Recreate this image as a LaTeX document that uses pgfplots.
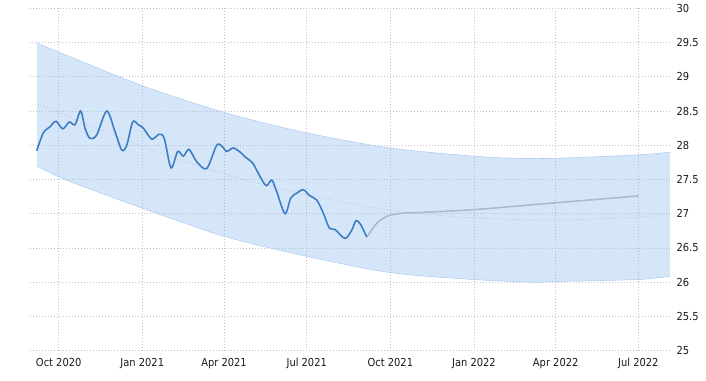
\documentclass[border=0pt]{standalone}
\usepackage{fontspec}
\setmainfont{DejaVu Sans}[FakeStretch=0.9]
\usepackage{pgfplots}
\pgfplotsset{compat=1.18}
\usepgfplotslibrary{fillbetween}
\definecolor{bandfill}{RGB}{138,184,238}
\definecolor{bandedge}{RGB}{180,206,242}
\definecolor{mainblue}{RGB}{60,125,195}
\definecolor{fcgray}{RGB}{176,186,200}
\definecolor{midgray}{RGB}{185,195,210}
\definecolor{gridgray}{RGB}{195,195,195}
\begin{document}
\begin{tikzpicture}
\begin{axis}[
  scale only axis, width=642pt, height=342.4pt,
  xmin=-31.6, xmax=675, ymin=25, ymax=30,
  ytick={25,25.5,26,26.5,27,27.5,28,28.5,29,29.5,30},
  yticklabels={25,25.5,26,26.5,27,27.5,28,28.5,29,29.5,30},
  yticklabel pos=right,
  xtick={0,92,182,273,365,457,547,638},
  xticklabels={Oct 2020,Jan 2021,Apr 2021,Jul 2021,Oct 2021,Jan 2022,Apr 2022,Jul 2022},
  grid=major,
  grid style={gridgray, line width=0.75pt, dash pattern=on 1pt off 2pt},
  axis line style={draw=none},
  major tick length=0pt,
  tick label style={font=\fontsize{11}{13}\selectfont, text=black!90},
  xticklabel style={yshift=-4pt},
  yticklabel style={xshift=1pt},
]
\addplot[name path=upper, smooth, bandedge, line width=0.6pt] coordinates {
(-24,29.49) (0,29.36) (92,28.87) (182,28.48) (273,28.18) (365,27.96) (457,27.84) (504,27.81) (547,27.81) (638,27.86) (673,27.90)};
\addplot[name path=lower, smooth, bandedge, line width=0.6pt] coordinates {
(-24,27.70) (8.8,27.49) (92.5,27.08) (182.3,26.67) (272.5,26.38) (365.4,26.14) (456.8,26.04) (523.5,26.00) (546.6,26.01) (638,26.04) (673,26.09)};
\addplot[bandfill, fill opacity=0.35, draw=none] fill between[of=upper and lower];
\addplot[smooth, midgray, line width=0.6pt, densely dotted] coordinates {
(-24,28.60) (0,28.48) (92,27.98) (182,27.58) (273,27.28) (365,27.05) (457,26.94) (547,26.91) (638,26.95) (673,27.00)};
\addplot[smooth, fcgray, line width=1.6pt] coordinates {
(339,26.66) (350,26.86) (358,26.94) (365,26.98) (380,27.01) (400,27.02) (457,27.06) (547,27.16) (638,27.26)};
\addplot[smooth, mainblue, line width=1.6pt] coordinates {
(-24.2,27.92) (-16.95,28.18) (-9.58,28.27) (-2.97,28.35) (4.40,28.24) (11.67,28.34) (17.94,28.30) (24.22,28.50) (28.95,28.25) (34.45,28.10) (41.83,28.15) (52.83,28.50) (61.97,28.20) (69.34,27.93) (74.85,28.00) (81.45,28.34) (87.62,28.30) (93.12,28.25) (102.37,28.09) (110.4,28.16) (116.2,28.10) (123.6,27.67) (131.0,27.91) (137.1,27.84) (143.4,27.94) (151.9,27.76) (162.9,27.66) (173.9,28.00) (180.1,27.98) (184.9,27.91) (192.2,27.96) (200.7,27.89) (205.1,27.83) (213.5,27.74) (219.7,27.59) (228.2,27.41) (234.5,27.49) (240.0,27.32) (249.1,27.00) (255.4,27.23) (262.0,27.30) (269.2,27.35) (276.6,27.26) (284.0,27.20) (291.2,27.01) (297.9,26.79) (304.1,26.77) (315.1,26.64) (322.5,26.76) (327.2,26.90) (332.4,26.84) (339.0,26.66)};
\end{axis}
\path ([xshift=-30pt,yshift=-29.3pt]current axis.south west) rectangle ([xshift=34pt,yshift=8.3pt]current axis.north east);
\end{tikzpicture}
\end{document}
